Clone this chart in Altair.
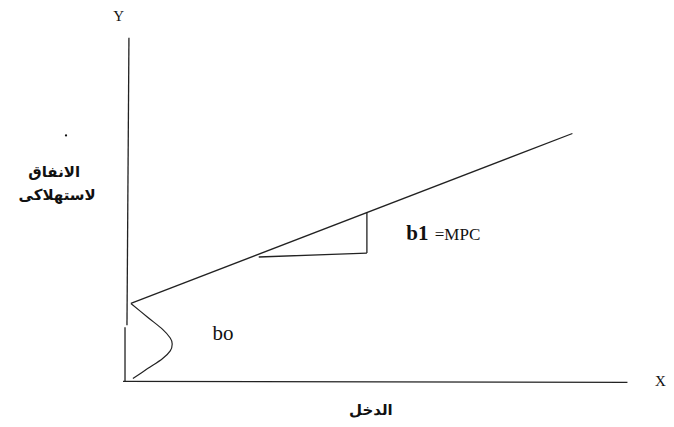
import altair as alt
import pandas as pd

# Diagram coordinates: origin at the axes' intersection, 1 unit = 1 px
seg_ids = ["y_low", "y_low", "y_high", "y_high", "x_axis", "x_axis",
           "mpc", "mpc", "tri_v", "tri_v", "tri_h", "tri_h"]
seg_x = [-1, -1, 1, 3, -3, 510, 5, 454, 245, 245, 245, 135]
seg_y = [0, 55, 57, 348, 0, -1, 79, 251, 171, 130, 130, 126]

curve_x = [5, 22, 37, 45, 47, 45, 37, 22, 7]
curve_y = [79, 65, 53, 44, 38, 31, 23, 13, 3]

serif_labels = ["Y", "X", "bo", "=MPC"]
serif_x = [-13, 538, 88, 314]
serif_y = [370, 0, 48, 148]
serif_size = [15, 15, 21, 17]

bold_labels = ["b1"]
bold_x = [285]
bold_y = [149]

arabic_labels = ["الانفاق", "لاستهلاكى", "الدخل"]
arabic_x = [-73, -70, 249]
arabic_y = [212, 189, -29]

dot_x = [-61]
dot_y = [249]

xs = alt.Scale(domain=[-120, 538], nice=False, zero=False)
ys = alt.Scale(domain=[-38, 373], nice=False, zero=False)
ink = "#222222"

segs = pd.DataFrame({"id": seg_ids, "x": seg_x, "y": seg_y})
curve = pd.DataFrame({"x": curve_x, "y": curve_y, "o": list(range(len(curve_x)))})
serif = pd.DataFrame({"t": serif_labels, "x": serif_x, "y": serif_y, "s": serif_size})
bold = pd.DataFrame({"t": bold_labels, "x": bold_x, "y": bold_y})
arab = pd.DataFrame({"t": arabic_labels, "x": arabic_x, "y": arabic_y})
dots = pd.DataFrame({"x": dot_x, "y": dot_y})

lines = alt.Chart(segs).mark_line(color=ink, strokeWidth=1.3).encode(
    x=alt.X("x:Q", scale=xs, axis=None),
    y=alt.Y("y:Q", scale=ys, axis=None),
    detail="id:N",
)

curve_layer = alt.Chart(curve).mark_line(color=ink, strokeWidth=1.2, interpolate="cardinal").encode(
    x=alt.X("x:Q", scale=xs, axis=None),
    y=alt.Y("y:Q", scale=ys, axis=None),
    order="o:Q",
)

serif_layer = alt.Chart(serif).mark_text(
    font="Liberation Serif", color="#111111", align="left", baseline="middle"
).encode(
    x=alt.X("x:Q", scale=xs, axis=None),
    y=alt.Y("y:Q", scale=ys, axis=None),
    text="t:N",
    size=alt.Size("s:Q", scale=None, legend=None),
)

bold_layer = alt.Chart(bold).mark_text(
    font="Liberation Serif", fontWeight="bold", fontSize=21, color="#111111",
    align="left", baseline="middle"
).encode(
    x=alt.X("x:Q", scale=xs, axis=None),
    y=alt.Y("y:Q", scale=ys, axis=None),
    text="t:N",
)

arab_layer = alt.Chart(arab).mark_text(
    font="DejaVu Sans", fontWeight="bold", fontSize=15, color="#111111",
    align="center", baseline="middle"
).encode(
    x=alt.X("x:Q", scale=xs, axis=None),
    y=alt.Y("y:Q", scale=ys, axis=None),
    text="t:N",
)

dot_layer = alt.Chart(dots).mark_circle(color="#111111", size=5, opacity=1).encode(
    x=alt.X("x:Q", scale=xs, axis=None),
    y=alt.Y("y:Q", scale=ys, axis=None),
)

chart = alt.layer(lines, curve_layer, serif_layer, bold_layer, arab_layer, dot_layer).properties(
    width=658, height=411, padding=0,
    autosize=alt.AutoSizeParams(type="fit", contains="padding"),
    background="white",
).configure_view(stroke=None)

chart.save("out.html", embed_options={"renderer": "svg", "actions": False})
